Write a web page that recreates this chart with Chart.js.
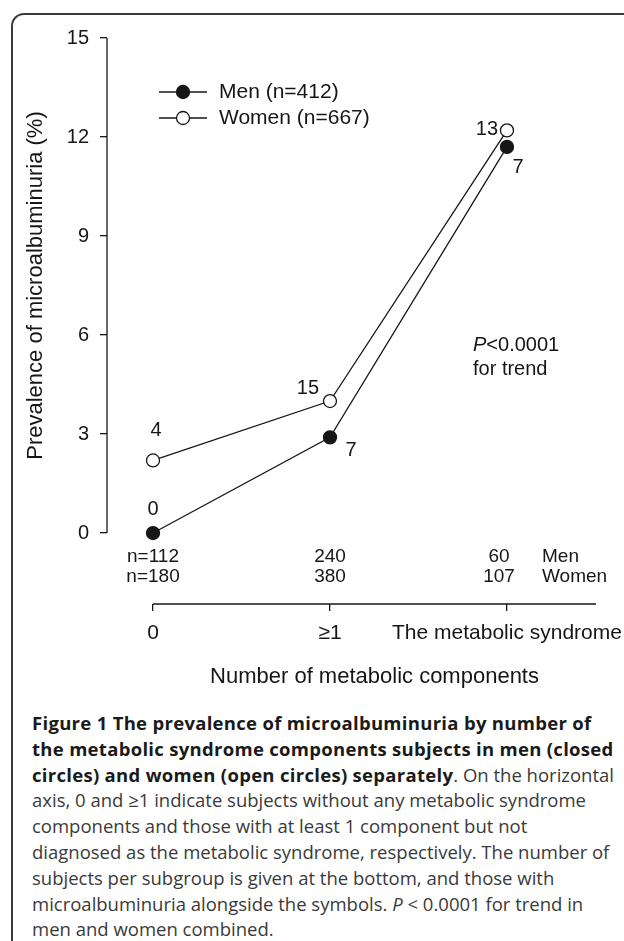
<!DOCTYPE html>
<html><head><meta charset="utf-8">
<script src="https://cdn.jsdelivr.net/npm/chart.js@4.4.0/dist/chart.umd.min.js"></script>
<style>
html,body{margin:0;padding:0;background:#fff;}
body{width:624px;height:941px;position:relative;overflow:hidden;}
#frame{position:absolute;left:11px;top:13px;width:700px;height:1000px;border-left:2px solid #3a3a3a;border-top:2px solid #3a3a3a;border-top-left-radius:13px;box-sizing:border-box;}
#wrap{position:absolute;left:0;top:0;width:624px;height:700px;}
#caption{position:absolute;left:32px;top:710px;width:600px;font-family:"Open Sans",sans-serif;font-size:18.5px;line-height:25.8px;color:#3a3a3a;white-space:nowrap;}
#caption b{color:#1a1a1a;letter-spacing:0.3px;}
</style></head><body>
<div id="frame"></div>
<div id="wrap"><canvas id="c" width="624" height="700"></canvas></div>
<div id="caption"><b>Figure 1 The prevalence of microalbuminuria by number of</b><br><b>the metabolic syndrome components subjects in men (closed</b><br><b>circles) and women (open circles) separately</b>. On the horizontal<br>axis, 0 and ≥1 indicate subjects without any metabolic syndrome<br>components and those with at least 1 component but not<br>diagnosed as the metabolic syndrome, respectively. The number of<br>subjects per subgroup is given at the bottom, and those with<br>microalbuminuria alongside the symbols. <i>P</i> &lt; 0.0001 for trend in<br>men and women combined.</div>
<script>
// ---- data ----
const categories = ['0', '\u22651', 'The metabolic syndrome'];
const menPrevalence = [0, 2.9, 11.7];
const womenPrevalence = [2.2, 4.0, 12.2];
const menCases = [0, 7, 7];
const womenCases = [4, 15, 13];
const menN = ['n=112', '240', '60'];
const womenN = ['n=180', '380', '107'];
const yTicks = [0, 3, 6, 9, 12, 15];
const seriesNames = ['Men (n=412)', 'Women (n=667)'];
const rowNames = ['Men', 'Women'];
const yTitle = 'Prevalence of microalbuminuria (%)';
const xTitle = 'Number of metabolic components';
const pText = ['P', '<0.0001', 'for trend'];

// ---- styles / layout ----
const FONT = '"Liberation Sans", Arial, sans-serif';
const INK = '#161616';
const menLabelOffsets = [[0, -24], [21, 13], [11, 21]];
const womenLabelOffsets = [[3, -30], [-22, -13], [-20, -1]];
const nColumnShift = [0, 0, -8];

const overlay = {
  id: 'overlay',
  beforeDatasetsDraw(chart) {
    const ctx = chart.ctx, x = chart.scales.x, y = chart.scales.y, a = chart.chartArea;
    ctx.save();
    ctx.strokeStyle = INK; ctx.lineWidth = 1.3;
    ctx.beginPath();
    ctx.moveTo(a.left, y.getPixelForValue(yTicks[yTicks.length - 1]));
    ctx.lineTo(a.left, y.getPixelForValue(yTicks[0]));
    ctx.stroke();
    ctx.beginPath();
    ctx.moveTo(x.getPixelForValue(0), a.bottom);
    ctx.lineTo(a.right, a.bottom);
    ctx.stroke();
    ctx.restore();
  },
  afterDraw(chart) {
    const ctx = chart.ctx, x = chart.scales.x, y = chart.scales.y, a = chart.chartArea;
    ctx.save();
    ctx.fillStyle = INK;
    // y title
    ctx.save();
    ctx.translate(36, (y.getPixelForValue(0) + y.getPixelForValue(15)) / 2);
    ctx.rotate(-Math.PI / 2);
    ctx.font = '22px ' + FONT;
    ctx.textAlign = 'center'; ctx.textBaseline = 'middle';
    ctx.fillText(yTitle, 0, 0);
    ctx.restore();
    // x title
    ctx.font = '22px ' + FONT;
    ctx.textAlign = 'center'; ctx.textBaseline = 'middle';
    ctx.fillText(xTitle, (x.getPixelForValue(0) + a.right) / 2, 677);
    // n rows
    ctx.font = '19px ' + FONT;
    for (let i = 0; i < categories.length; i++) {
      const px = x.getPixelForValue(i) + nColumnShift[i];
      ctx.fillText(menN[i], px, 557);
      ctx.fillText(womenN[i], px, 577);
    }
    ctx.textAlign = 'left';
    ctx.fillText(rowNames[0], 542, 557);
    ctx.fillText(rowNames[1], 542, 577);
    // data labels
    ctx.font = '20px ' + FONT;
    ctx.textAlign = 'center';
    for (let i = 0; i < categories.length; i++) {
      const px = x.getPixelForValue(i);
      ctx.fillText(String(menCases[i]), px + menLabelOffsets[i][0], y.getPixelForValue(menPrevalence[i]) + menLabelOffsets[i][1]);
      ctx.fillText(String(womenCases[i]), px + womenLabelOffsets[i][0], y.getPixelForValue(womenPrevalence[i]) + womenLabelOffsets[i][1]);
    }
    // P text
    ctx.textAlign = 'left';
    ctx.font = 'italic 20px ' + FONT;
    ctx.fillText(pText[0], 473, 345);
    const pw = ctx.measureText(pText[0]).width;
    ctx.font = '20px ' + FONT;
    ctx.fillText(pText[1], 473 + pw, 345);
    ctx.fillText(pText[2], 473, 369);
    // legend
    const ly = [92, 118];
    for (let k = 0; k < 2; k++) {
      ctx.strokeStyle = INK; ctx.lineWidth = 1.3;
      ctx.beginPath(); ctx.moveTo(159, ly[k]); ctx.lineTo(207, ly[k]); ctx.stroke();
      ctx.beginPath(); ctx.arc(183, ly[k], 6.5, 0, Math.PI * 2);
      ctx.fillStyle = k === 0 ? INK : '#fff'; ctx.fill(); ctx.stroke();
      ctx.fillStyle = INK;
      ctx.font = '21px ' + FONT;
      ctx.textBaseline = 'middle';
      ctx.fillText(seriesNames[k], 219, ly[k]);
    }
    ctx.restore();
  }
};

const toPts = arr => arr.map((v, i) => ({ x: i, y: v }));

new Chart(document.getElementById('c'), {
  type: 'line',
  data: {
    datasets: [
      { label: seriesNames[1], data: toPts(womenPrevalence), borderColor: INK, borderWidth: 1.3,
        pointRadius: 6.5, pointBackgroundColor: '#fff', pointBorderColor: INK, pointBorderWidth: 1.3, tension: 0 },
      { label: seriesNames[0], data: toPts(menPrevalence), borderColor: INK, borderWidth: 1.3,
        pointRadius: 6.5, pointBackgroundColor: INK, pointBorderColor: INK, pointBorderWidth: 1.3, tension: 0 }
    ]
  },
  options: {
    responsive: false,
    animation: false,
    layout: { padding: { left: 0, right: 28, top: 38, bottom: 0 } },
    plugins: { legend: { display: false }, tooltip: { enabled: false } },
    scales: {
      x: {
        type: 'linear', min: -0.26, max: 2.503,
        afterBuildTicks: s => { s.ticks = categories.map((c, i) => ({ value: i })); },
        afterFit: s => { s.height = 96; s.paddingLeft = 0; s.paddingRight = 0; },
        ticks: { callback: v => categories[v], font: { size: 21, family: FONT }, color: INK, padding: 10, maxRotation: 0, autoSkip: false },
        grid: { drawOnChartArea: false, drawTicks: true, tickLength: 7, color: INK, lineWidth: 1.3 },
        border: { display: false }
      },
      y: {
        type: 'linear', min: -2.15, max: 15,
        afterBuildTicks: s => { s.ticks = yTicks.map(v => ({ value: v })); },
        afterFit: s => { s.width = 107; s.paddingTop = 0; s.paddingBottom = 0; },
        ticks: { font: { size: 20, family: FONT }, color: INK, padding: 11 },
        grid: { drawOnChartArea: false, drawTicks: true, tickLength: 7, color: INK, lineWidth: 1.3 },
        border: { display: false }
      }
    }
  },
  plugins: [overlay]
});
</script>
</body></html>
